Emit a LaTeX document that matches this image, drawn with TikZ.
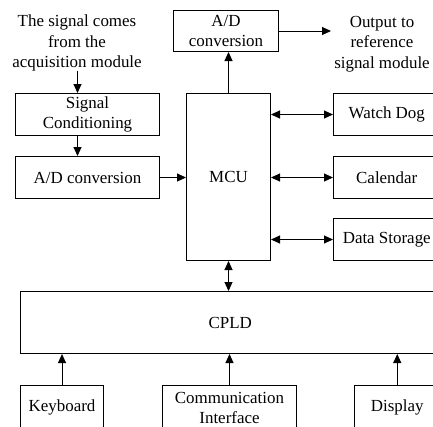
\documentclass[tikz,border=0pt]{standalone}
\usepackage{fontspec}
\setmainfont{Liberation Serif}
\usetikzlibrary{arrows.meta}
\begin{document}
\begin{tikzpicture}[x=1bp,y=-1bp,
  every node/.style={font=\fontsize{17}{20.5}\selectfont},
  blk/.style={draw, line width=1bp, inner sep=0pt, align=center},
  lbl/.style={inner sep=0pt, align=center},
  conn/.style={line width=1bp, -{Triangle[length=9bp,width=8bp]}},
  bidir/.style={line width=1bp, {Triangle[length=9bp,width=8bp]}-{Triangle[length=9bp,width=8bp]}}]
\useasboundingbox (0,0) rectangle (433,426);
\clip (0,0) rectangle (433,426);

% upper left chain
\node[lbl] (src) at (77,43) {The signal comes\\from the\\acquisition module};
\node[blk, minimum width=144bp, minimum height=42bp] (sc) at (87.5,114.5) {Signal\\Conditioning};
\node[blk, minimum width=144bp, minimum height=42bp] (adl) at (87.5,177.5) {A/D conversion};

% controller and output converter
\node[blk, minimum width=84bp, minimum height=167bp] (mcu) at (228.5,177) {MCU};
\node[blk, minimum width=105bp, minimum height=41bp] (adtop) at (226,31) {A/D\\conversion};
\node[lbl] (out) at (382,44) {Output to\\reference\\signal module};
\coordinate (outtip) at (331,31);

% peripherals on the right
\node[blk, minimum width=106.5bp, minimum height=42bp] (wd) at (386.75,114.5) {Watch Dog};
\node[blk, minimum width=106.5bp, minimum height=42bp] (cal) at (386.75,177.5) {Calendar};
\node[blk, minimum width=106.5bp, minimum height=42bp] (ds) at (386.75,239.5) {Data Storage};

% logic device and bottom row
\node[blk, minimum width=419.5bp, minimum height=62bp] (cpld) at (230.25,322.5) {CPLD};
\node[blk, minimum width=83bp, minimum height=44.5bp] (kb) at (62,407.75) {Keyboard};
\node[blk, minimum width=134bp, minimum height=44.5bp] (ci) at (229.5,407.75) {Communication\\Interface};
\node[blk, minimum width=85.5bp, minimum height=44.5bp] (disp) at (397.25,407.75) {Display};

\coordinate (srcx) at (77.5,71);
% connectors
\draw[conn] (srcx) -- (srcx |- sc.north);
\draw[conn] (srcx |- sc.south) -- (srcx |- adl.north);
\draw[conn] (adl.east) -- (adl.east -| mcu.west);
\draw[conn] (mcu.north) -- (mcu.north |- adtop.south);
\draw[conn] (adtop.east) -- (outtip);
\draw[bidir] (wd.west -| mcu.east) -- (wd.west);
\draw[bidir] (cal.west -| mcu.east) -- (cal.west);
\draw[bidir] (ds.west -| mcu.east) -- (ds.west);
\draw[bidir] (mcu.south) -- (mcu.south |- cpld.north);
\draw[conn] (kb.north) -- (kb.north |- cpld.south);
\draw[conn] (ci.north) -- (ci.north |- cpld.south);
\draw[conn] (disp.north) -- (disp.north |- cpld.south);
\end{tikzpicture}
\end{document}
